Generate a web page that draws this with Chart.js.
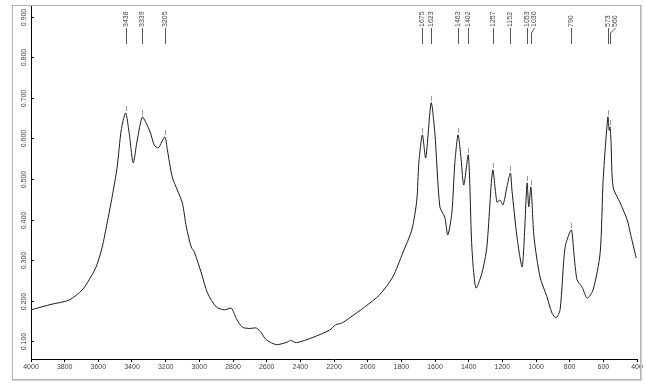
<!DOCTYPE html>
<html>
<head>
<meta charset="utf-8">
<script src="https://cdn.jsdelivr.net/npm/chart.js@4"></script>
<style>
  html, body { margin: 0; padding: 0; background: #fff; }
</style>
</head>
<body>
<canvas id="myChart" width="646" height="387"></canvas>
<script>
// spectre IR : nombre d'onde (cm-1) et absorbance
const wavenumbers = [
  4000, 3875, 3774, 3696, 3655, 3613, 3577, 3548, 3518, 3488, 3464, 3438, 3417, 3393, 3369,
  3339, 3316, 3292, 3268, 3244, 3205, 3190, 3161, 3131, 3101, 3077, 3048, 3030, 2988, 2952,
  2899, 2851, 2810, 2780, 2744, 2702, 2661, 2631, 2607, 2570, 2536, 2472, 2460, 2423, 2325,
  2226, 2190, 2155, 2104, 2018, 1929, 1851, 1792, 1738, 1708, 1696, 1675, 1655, 1623, 1601,
  1571, 1542, 1524, 1500, 1482, 1463, 1446, 1429, 1402, 1381, 1357, 1321, 1292, 1257, 1232,
  1214, 1196, 1173, 1152, 1143, 1113, 1083, 1071, 1053, 1043, 1030, 1012, 976, 935, 905,
  881, 857, 827, 790, 775, 756, 726, 696, 661, 619, 601, 573, 565, 560, 554,
  542, 500, 458, 440, 405
];
const absorbance = [
  0.177, 0.191, 0.201, 0.226, 0.251, 0.283, 0.332, 0.391, 0.456, 0.530, 0.621, 0.663, 0.614, 0.540, 0.596,
  0.653, 0.638, 0.616, 0.584, 0.577, 0.604, 0.572, 0.505, 0.473, 0.441, 0.381, 0.332, 0.320, 0.268, 0.219,
  0.184, 0.177, 0.181, 0.155, 0.134, 0.131, 0.132, 0.120, 0.105, 0.095, 0.091, 0.098, 0.102, 0.096, 0.109,
  0.127, 0.140, 0.144, 0.158, 0.184, 0.214, 0.258, 0.317, 0.374, 0.448, 0.540, 0.609, 0.552, 0.688, 0.614,
  0.431, 0.406, 0.362, 0.416, 0.540, 0.609, 0.554, 0.485, 0.559, 0.332, 0.231, 0.268, 0.332, 0.522, 0.443,
  0.448, 0.436, 0.480, 0.515, 0.473, 0.357, 0.283, 0.342, 0.490, 0.431, 0.480, 0.357, 0.258, 0.209, 0.169,
  0.157, 0.177, 0.332, 0.374, 0.317, 0.251, 0.233, 0.206, 0.226, 0.317, 0.498, 0.653, 0.620, 0.628, 0.589,
  0.480, 0.441, 0.399, 0.367, 0.305
];

// pics annotés en haut du graphique
const peakLabels = [3438, 3339, 3205, 1675, 1623, 1463, 1402, 1257, 1152, 1053, 1030, 790, 573, 560];

// graduations de l'axe des absorbances
const yTicks = [0.1, 0.2, 0.3, 0.4, 0.5, 0.6, 0.7, 0.8, 0.9];

const FONT = "'Liberation Sans', Arial, sans-serif";

// décalage horizontal de certaines étiquettes (pics trop proches)
const labelShift = { 1030: 3, 560: 5 };

const spectrumDecor = {
  id: "spectrumDecor",
  afterDraw(chart) {
    const { ctx, scales: { x, y } } = chart;
    ctx.save();

    // cadre gris autour du graphique
    ctx.strokeStyle = "#b4b4b4";
    ctx.lineWidth = 1;
    ctx.strokeRect(12.5, 5.5, 628, 374);
    ctx.strokeStyle = "#d0d0d0";
    ctx.beginPath();
    ctx.moveTo(641.5, 5);
    ctx.lineTo(641.5, 381);
    ctx.moveTo(12, 380.5);
    ctx.lineTo(642, 380.5);
    ctx.stroke();

    // étiquettes et graduations de l'axe Y (texte vertical)
    ctx.font = "7px " + FONT;
    ctx.fillStyle = "#444";
    ctx.textAlign = "center";
    ctx.textBaseline = "middle";
    ctx.strokeStyle = "#000";
    yTicks.forEach((v) => {
      const py = Math.round(y.getPixelForValue(v)) + 0.5;
      ctx.beginPath();
      ctx.moveTo(x.left, py);
      ctx.lineTo(x.left + 3, py);
      ctx.stroke();
      ctx.save();
      ctx.translate(24, py);
      ctx.rotate(-Math.PI / 2);
      ctx.fillText(v.toFixed(3), 0, 0);
      ctx.restore();
    });

    // étiquettes des pics
    peakLabels.forEach((wn) => {
      const px = x.getPixelForValue(wn);
      const lx = px + (labelShift[wn] || 0);

      ctx.save();
      ctx.translate(lx, 27);
      ctx.rotate(-Math.PI / 2);
      ctx.textAlign = "left";
      ctx.fillStyle = "#444";
      ctx.fillText(String(wn), 0, 0);
      ctx.restore();

      ctx.strokeStyle = "#555";
      ctx.beginPath();
      ctx.moveTo(Math.round(lx) + 0.5, 28);
      ctx.lineTo(Math.round(px) + 0.5, 33);
      ctx.lineTo(Math.round(px) + 0.5, 44);
      ctx.stroke();

      // petit trait au-dessus du pic sur la courbe
      let best = -1;
      wavenumbers.forEach((w, i) => {
        if (Math.abs(w - wn) <= 8 && (best < 0 || absorbance[i] > absorbance[best])) best = i;
      });
      if (best >= 0) {
        const py = y.getPixelForValue(absorbance[best]);
        ctx.strokeStyle = "#999";
        ctx.beginPath();
        ctx.moveTo(Math.round(px) + 0.5, py - 2);
        ctx.lineTo(Math.round(px) + 0.5, py - 7);
        ctx.stroke();
      }
    });

    ctx.restore();
  },
};

const ctx = document.getElementById("myChart").getContext("2d");
const chart = new Chart(ctx, {
  type: "line",
  data: {
    datasets: [
      {
        label: "Absorbance",
        data: wavenumbers.map((w, i) => ({ x: w, y: absorbance[i] })),
        borderColor: "#1a1a1a",
        borderWidth: 1,
        pointRadius: 0,
        tension: 0.25,
        fill: false,
      },
    ],
  },
  options: {
    responsive: false,
    animation: false,
    layout: { padding: { left: 0, top: 5, right: 9, bottom: 0 } },
    plugins: {
      legend: { display: false },
      tooltip: { enabled: false },
    },
    scales: {
      x: {
        type: "linear",
        reverse: true,
        min: 400,
        max: 4000,
        afterFit: (s) => { s.height = 28; },
        grid: { drawOnChartArea: false, drawTicks: true, tickLength: 3, color: "#000" },
        border: { color: "#000", width: 1 },
        ticks: {
          stepSize: 200,
          autoSkip: false,
          maxRotation: 0,
          padding: 1,
          color: "#444",
          font: { size: 7, family: FONT },
          callback: (v) => String(v),
        },
      },
      y: {
        type: "linear",
        min: 0.0556,
        max: 0.9296,
        afterBuildTicks: (s) => { s.ticks = yTicks.map((v) => ({ value: v })); },
        afterFit: (s) => { s.width = 31; },
        grid: { display: true, drawOnChartArea: false, drawTicks: false },
        border: { color: "#000", width: 1 },
        ticks: { display: false },
      },
    },
  },
  plugins: [spectrumDecor],
});
</script>
</body>
</html>
